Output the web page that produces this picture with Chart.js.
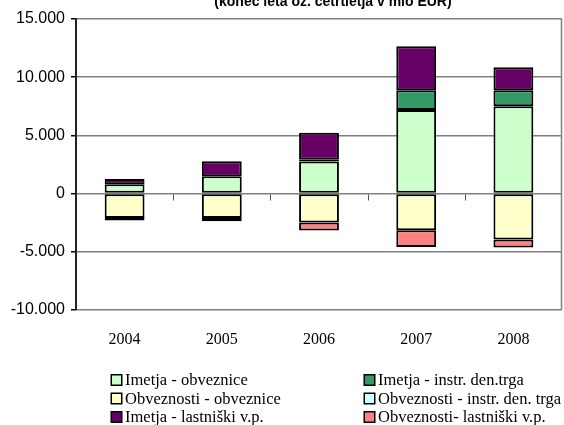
<!DOCTYPE html>
<html>
<head>
<meta charset="utf-8">
<script src="https://cdn.jsdelivr.net/npm/chart.js@4"></script>
<style>
  html, body { margin: 0; padding: 0; background: #fff; }
  #wrap { width: 564px; height: 425px; position: relative; }
</style>
</head>
<body>
<div id="wrap"><canvas id="barChart" width="564" height="425"></canvas></div>
<script>
// categories
var years = ["2004", "2005", "2006", "2007", "2008"];

// series values (mio EUR)
var imetjaObveznice = [800, 1490, 2750, 7190, 7500];
var imetjaInstr = [0, 0, 150, 1690, 1370];
var obveznostiObveznice = [-2090, -2090, -2490, -3150, -3950];
var obveznostiInstr = [0, 0, 0, 0, 0];
var imetjaLastniski = [460, 1290, 2320, 3780, 1980];
var obveznostiLastniski = [-230, -290, -690, -1430, -690];

// axis ticks
var yTicks = [-10000, -5000, 0, 5000, 10000, 15000];

var titleText = "(konec leta oz. četrtletja v mio EUR)";

function fmt(v) {
  var s = Math.abs(v).toString().replace(/\B(?=(\d{3})+(?!\d))/g, ".");
  return (v < 0 ? "-" : "") + s;
}

function ds(label, data, color) {
  return {
    label: label,
    data: data,
    backgroundColor: color,
    borderColor: "#000000",
    borderWidth: 2,
    borderSkipped: false
  };
}

var data = {
  labels: years,
  datasets: [
    ds("Imetja - obveznice", imetjaObveznice, "#CCFFCC"),
    ds("Imetja - instr. den.trga", imetjaInstr, "#339966"),
    ds("Obveznosti - obveznice", obveznostiObveznice, "#FFFFCC"),
    ds("Obveznosti - instr. den. trga", obveznostiInstr, "#CCFFFF"),
    ds("Imetja - lastniški v.p.", imetjaLastniski, "#660066"),
    ds("Obveznosti- lastniški v.p.", obveznostiLastniski, "#FF8080")
  ]
};

// extra drawing: clipped title, zero-line ticks, right border, legend
var extras = {
  id: "extras",
  beforeDatasetsDraw: function(chart) {
    var ctx = chart.ctx, a = chart.chartArea;
    var x = chart.scales.x, y = chart.scales.y;
    ctx.save();
    ctx.strokeStyle = "#808080";
    ctx.lineWidth = 1.5;
    ctx.beginPath();
    ctx.moveTo(a.right - 0.5, a.top);
    ctx.lineTo(a.right - 0.5, a.bottom);
    ctx.stroke();
    // category ticks on the zero line
    var y0 = Math.round(y.getPixelForValue(0)) + 0.5;
    ctx.strokeStyle = "#555555";
    ctx.lineWidth = 1;
    for (var i = 0; i < years.length - 1; i++) {
      var bx = Math.round((x.getPixelForValue(i) + x.getPixelForValue(i + 1)) / 2) + 0.5;
      ctx.beginPath();
      ctx.moveTo(bx, y0);
      ctx.lineTo(bx, y0 + 6);
      ctx.stroke();
    }
    ctx.restore();
  },
  afterDraw: function(chart) {
    var ctx = chart.ctx;
    ctx.save();
    ctx.fillStyle = "#000";
    ctx.font = "bold 14px 'Liberation Sans', Arial, sans-serif";
    ctx.textAlign = "center";
    ctx.textBaseline = "alphabetic";
    ctx.fillText(titleText, 333, 6);

    // legend, two columns
    var cols = [111, 364];
    var rows = [380, 398.5, 417];
    ctx.font = "16.5px 'Liberation Serif', 'Times New Roman', serif";
    ctx.textAlign = "left";
    ctx.textBaseline = "middle";
    chart.data.datasets.forEach(function(d, i) {
      var cx = cols[i % 2], cy = rows[Math.floor(i / 2)];
      ctx.fillStyle = d.backgroundColor;
      ctx.fillRect(cx, cy - 5.5, 11, 11);
      ctx.strokeStyle = "#000";
      ctx.lineWidth = 1.5;
      ctx.strokeRect(cx + 0.25, cy - 5.25, 10.5, 10.5);
      ctx.fillStyle = "#000";
      ctx.fillText(d.label, cx + 14, cy + 1);
    });
    ctx.restore();
  }
};

var config = {
  type: "bar",
  data: data,
  plugins: [extras],
  options: {
    responsive: false,
    animation: false,
    layout: { padding: { top: 19, right: 2, left: 0, bottom: 0 } },
    plugins: {
      legend: { display: false },
      tooltip: { enabled: false }
    },
    datasets: {
      bar: { categoryPercentage: 1, barPercentage: 0.41 }
    },
    scales: {
      x: {
        stacked: true,
        grid: { display: false },
        border: { display: false },
        ticks: {
          color: "#000",
          padding: 12,
          font: { family: "'Liberation Serif', 'Times New Roman', serif", size: 16 }
        },
        afterFit: function(s) { s.height = 115; }
      },
      y: {
        stacked: true,
        min: -10000,
        max: 15000,
        afterBuildTicks: function(s) { s.ticks = yTicks.map(function(v) { return { value: v }; }); },
        grid: { color: "#808080", lineWidth: 1.5, tickColor: "#000", tickLength: 5 },
        border: { display: true, color: "#222", width: 2 },
        ticks: {
          color: "#000",
          padding: 6,
          font: { family: "'Liberation Sans', Arial, sans-serif", size: 16 },
          callback: function(v) { return fmt(v); }
        },
        afterFit: function(s) { s.width = 76; }
      }
    }
  }
};

var ctx = document.getElementById("barChart").getContext("2d");
new Chart(ctx, config);
</script>
</body>
</html>
